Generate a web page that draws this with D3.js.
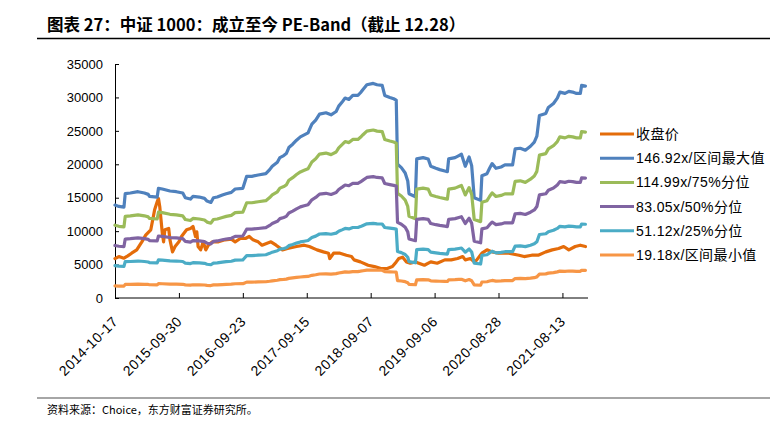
<!DOCTYPE html>
<html><head><meta charset="utf-8">
<script src="https://cdn.jsdelivr.net/npm/d3@7/dist/d3.min.js"></script>
<style>body{margin:0;background:#fff}svg{display:block}</style>
</head><body>
<svg id="chart" width="770" height="423"></svg>
<script>
// ---------- data ----------
const titleText = "图表 27：中证 1000：成立至今 PE-Band（截止 12.28）";
const sourceText = "资料来源：Choice，东方财富证券研究所。";
const seriesNames = ["收盘价", "146.92x/区间最大值", "114.99x/75%分位", "83.05x/50%分位", "51.12x/25%分位", "19.18x/区间最小值"];
const tickLabels = ["2014-10-17", "2015-09-30", "2016-09-23", "2017-09-15", "2018-09-07", "2019-09-06", "2020-08-28", "2021-08-13"];
const yTicks = [0, 5000, 10000, 15000, 20000, 25000, 30000, 35000];
const weekCount = 370;          // weekly categories on the x axis
const weeksPerTick = 50;

// closing price (week index, value)
const closeWeeks = [0,3,7,10,13,17,21,24,28,30,31,33,34,35,37,38,39,42,43,45,47,50,52,56,59,61,63,64,65,67,69,71,73,76,81,86,91,94,98,102,105,108,112,115,119,122,126,131,135,142,148,152,158,163,167,168,171,176,181,185,187,192,198,203,208,213,217,220,222,225,228,231,235,242,247,252,258,263,268,272,274,278,281,283,287,291,295,300,308,316,320,326,331,337,342,347,351,355,360,364,368];
const closeValues = [5900,6200,5950,6300,6700,7200,8400,9400,10200,12200,13200,14400,14900,13700,9700,8400,10200,10400,8700,6900,7700,8400,9200,10200,10400,10700,9200,9900,7700,7200,8400,7200,7900,8400,8400,8700,8800,8400,8900,8900,9200,8700,8400,7900,8200,8400,7900,7200,7400,7700,7900,7700,7200,6900,6700,5900,6700,6700,6400,6200,5700,5400,4900,4700,4400,4400,4700,5400,5900,6100,5400,5200,5400,4900,5400,5200,5700,5700,5900,6200,5700,5900,5400,5700,6700,7200,6900,6700,6700,6400,6200,6400,6400,6900,7200,7400,7700,7200,7700,7900,7700];

// PE bands (week index, value)
const bandWeeks = [0,3,7,8,12,18,23,26,27,33,34,37,43,48,53,55,59,61,66,70,72,75,77,80,84,87,91,94,100,101,103,107,112,118,121,123,127,129,132,134,136,139,142,145,148,151,154,157,160,165,169,173,175,178,180,183,186,190,192,194,197,202,205,209,211,215,218,220,221,224,227,229,230,235,236,241,245,247,251,254,258,260,261,266,269,271,274,277,279,281,286,287,291,293,295,298,302,305,311,313,317,321,325,328,330,332,337,339,343,346,348,352,355,358,361,364,365,368];
const bandMax = [13900,13700,13600,15600,15700,15900,15700,15500,15200,15100,16400,16300,16000,15900,15700,15000,14800,15200,15100,14900,14500,14300,15000,15100,15400,15600,15800,16300,16400,17000,18200,18200,18400,18600,19200,19700,20300,21000,21300,21600,22500,23000,23600,24100,24400,24700,26000,26600,27500,27700,27400,27900,28700,29400,29900,29700,30300,30300,30700,31200,31900,32100,31900,31800,30300,30000,29800,29600,20000,19500,18700,17500,15600,15150,20800,21000,20800,19700,19400,19200,19000,18900,20800,21000,21300,21500,19700,21100,19800,15000,14600,18300,18600,19400,20100,19400,19600,19900,19900,22300,22400,22100,22700,23300,24200,27300,27600,28500,29100,29900,30800,30600,30900,30800,30600,30600,31800,31700];
const band75 = [10880,10720,10640,12210,12290,12440,12290,12130,11900,11820,12835,12760,12520,12440,12290,11740,11585,11900,11820,11660,11350,11190,11740,11820,12050,12210,12365,12760,12835,13305,14245,14245,14400,14560,15030,15420,15890,16435,16670,16905,17610,18000,18470,18860,19100,19330,20350,20820,21525,21680,21445,21835,22465,23010,23400,23245,23715,23715,24030,24420,24965,25125,24965,24890,23715,23480,23325,23165,15655,15260,14635,13695,12210,11855,16280,16435,16280,15420,15185,15025,14870,14790,16280,16435,16670,16825,15420,16515,15495,11740,11425,14325,14560,15185,15730,15185,15340,15575,15575,17455,17530,17295,17765,18235,18940,21365,21600,22305,22775,23400,24105,23950,24185,24105,23950,23950,24890,24810];
const band50 = [7860,7740,7690,8820,8875,8990,8875,8760,8590,8535,9270,9215,9045,8990,8875,8480,8365,8590,8535,8425,8195,8085,8480,8535,8705,8820,8930,9215,9270,9610,10290,10290,10400,10515,10855,11135,11475,11870,12040,12210,12720,13000,13340,13625,13795,13960,14695,15035,15545,15660,15490,15770,16225,16620,16900,16790,17130,17130,17355,17635,18030,18145,18030,17975,17130,16960,16845,16730,11305,11025,10570,9890,8820,8565,11760,11870,11760,11135,10965,10855,10740,10685,11760,11870,12040,12155,11135,11925,11190,8480,8255,10345,10515,10965,11360,10965,11080,11250,11250,12605,12660,12490,12830,13170,13680,15430,15600,16110,16450,16900,17410,17295,17465,17410,17295,17295,17975,17920];
const band25 = [4840,4770,4730,5430,5460,5530,5460,5390,5290,5255,5705,5670,5565,5530,5460,5220,5150,5290,5255,5185,5045,4975,5220,5255,5360,5430,5500,5670,5705,5915,6335,6335,6400,6470,6680,6855,7065,7305,7410,7515,7830,8005,8210,8385,8490,8595,9045,9255,9570,9640,9535,9710,9985,10230,10405,10335,10545,10545,10680,10855,11100,11170,11100,11065,10545,10440,10370,10300,6960,6785,6505,6090,5430,5270,7235,7305,7235,6855,6750,6680,6610,6575,7235,7305,7410,7480,6855,7340,6890,5220,5080,6365,6470,6750,6995,6750,6820,6925,6925,7760,7795,7690,7900,8105,8420,9500,9605,9915,10125,10405,10715,10645,10750,10715,10645,10645,11065,11030];
const bandMin = [1815,1790,1775,2035,2050,2075,2050,2025,1985,1970,2140,2130,2090,2075,2050,1960,1930,1985,1970,1945,1895,1865,1960,1970,2010,2035,2065,2130,2140,2220,2375,2375,2400,2430,2505,2570,2650,2740,2780,2820,2935,3005,3080,3145,3185,3225,3395,3475,3590,3615,3575,3640,3745,3840,3905,3875,3955,3955,4010,4075,4165,4190,4165,4150,3955,3915,3890,3865,2610,2545,2440,2285,2035,1980,2715,2740,2715,2570,2535,2505,2480,2465,2715,2740,2780,2805,2570,2755,2585,1960,1905,2390,2430,2535,2625,2535,2560,2600,2600,2910,2925,2885,2965,3040,3160,3565,3605,3720,3800,3905,4020,3995,4035,4020,3995,3995,4150,4140];

const colors = ["#E46C0A", "#4F81BD", "#9BBB59", "#8064A2", "#4BACC6", "#F79646"];

// ---------- drawing ----------
const svg = d3.select("#chart");
const plot = {left: 115, right: 588, top: 64, bottom: 298};
const x = d3.scaleLinear().domain([0, weekCount]).range([plot.left, plot.right]);
const y = d3.scaleLinear().domain([0, 35000]).range([plot.bottom, plot.top]);

// title
svg.append("text").attr("x", 47).attr("y", 31)
  .attr("font-family", "'Noto Sans CJK SC', sans-serif").attr("font-weight", "bold")
  .attr("font-size", 16.5).attr("fill", "#000").text(titleText);
svg.append("line").attr("x1", 37).attr("x2", 770).attr("y1", 38.5).attr("y2", 38.5)
  .attr("stroke", "#000").attr("stroke-width", 1.5);

// footer
svg.append("line").attr("x1", 37).attr("x2", 770).attr("y1", 398).attr("y2", 398)
  .attr("stroke", "#A6A6A6").attr("stroke-width", 2);
svg.append("text").attr("x", 47).attr("y", 414)
  .attr("font-family", "'Noto Sans CJK SC', sans-serif")
  .attr("font-size", 11).attr("fill", "#000").text(sourceText);

// y axis
const yAxis = d3.axisRight(y).tickValues(yTicks).tickSize(4).tickFormat(d3.format("d"));
const gy = svg.append("g").attr("transform", `translate(${plot.left},0)`).call(yAxis);
gy.select(".domain").attr("stroke", "#000");
gy.selectAll(".tick line").attr("stroke", "#000");
gy.selectAll(".tick text").attr("x", -12).attr("text-anchor", "end")
  .attr("font-family", "'Liberation Sans', Arial, sans-serif").attr("font-size", 13).attr("fill", "#000");

// x axis
const xTickVals = tickLabels.map((d, i) => i * weeksPerTick);
const xAxis = d3.axisTop(x).tickValues(xTickVals).tickSize(5).tickFormat((d, i) => tickLabels[i]);
const gx = svg.append("g").attr("transform", `translate(0,${plot.bottom})`).call(xAxis);
gx.select(".domain").attr("stroke", "#000").attr("d", `M${plot.left},0H${plot.right}`);
gx.selectAll(".tick line").attr("stroke", "#000");
gx.selectAll(".tick text")
  .attr("font-family", "'Liberation Sans', Arial, sans-serif").attr("font-size", 14)
  .attr("letter-spacing", 0.5).attr("fill", "#000")
  .attr("text-anchor", "end").attr("dy", "0.35em")
  .attr("transform", "translate(0,21) rotate(-45)").attr("y", 0).attr("x", 0);

// lines
const line = d3.line().x(d => x(d[0])).y(d => y(d[1]));
const bands = [bandMax, band75, band50, band25, bandMin];
const allSeries = [closeWeeks.map((w, i) => [w, closeValues[i]])]
  .concat(bands.map(vals => bandWeeks.map((w, i) => [w, vals[i]])));
allSeries.forEach((pts, k) => {
  svg.append("path").attr("d", line(pts)).attr("fill", "none")
    .attr("stroke", colors[k]).attr("stroke-width", 3.2)
    .attr("stroke-linejoin", "round").attr("stroke-linecap", "round");
});

// legend
const lg = svg.append("g");
seriesNames.forEach((name, i) => {
  const yy = 134 + i * 24.2;
  lg.append("line").attr("x1", 600).attr("x2", 634).attr("y1", yy).attr("y2", yy)
    .attr("stroke", colors[i]).attr("stroke-width", 3);
  lg.append("text").attr("x", 636).attr("y", yy + 5)
    .attr("font-family", "'Liberation Sans', 'Noto Sans CJK SC', sans-serif")
    .attr("font-size", 14).attr("letter-spacing", 0.4).attr("fill", "#000").text(name);
});
</script>
</body></html>
